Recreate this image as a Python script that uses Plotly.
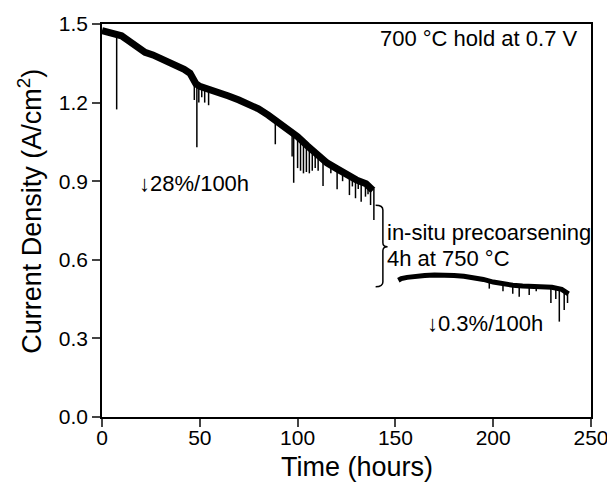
import plotly.graph_objects as go

# Segment 1 (before precoarsening): time (h), current density (A/cm2) band centre
t1 = [0, 3, 6, 10, 13.5, 16, 18, 20, 22, 26, 30, 34, 38.6, 42, 45, 46.5, 48, 50, 53, 56, 60,
      64.7, 70, 75, 80, 85, 90, 95, 100, 105, 110, 115, 120, 125, 130, 135, 138.5]
j1 = [1.475, 1.47, 1.465, 1.455, 1.437, 1.425, 1.41, 1.398, 1.392, 1.382, 1.37, 1.357, 1.34,
      1.327, 1.312, 1.29, 1.272, 1.262, 1.253, 1.245, 1.238, 1.225, 1.21, 1.195, 1.176, 1.152,
      1.125, 1.10, 1.07, 1.035, 1.0, 0.97, 0.948, 0.925, 0.905, 0.89, 0.865]

# Segment 2 (after precoarsening)
t2 = [151.5, 153, 156, 160, 165, 170, 175, 180, 185, 190, 195, 200, 205, 210, 215, 220, 225,
      230, 235, 238.5]
j2 = [0.522, 0.528, 0.533, 0.537, 0.540, 0.542, 0.542, 0.540, 0.537, 0.532, 0.525, 0.515,
      0.508, 0.503, 0.50, 0.498, 0.497, 0.495, 0.487, 0.47]

# Downward spikes: time, lowest value, band value at spike
spike_t = [7.5, 47.2, 48.5, 49.5, 51, 52.5, 54.5, 88.6, 97.2, 98.0, 100, 101.5, 103, 104.5,
           106, 107.5, 109, 110.5, 113, 117, 120.2, 123, 126.5, 128, 129.6, 131, 132.5, 134.7,
           136, 137.3, 139,
           198, 205, 210, 213.3, 218.4, 222, 229.5, 232, 233.8, 236.3, 238]
spike_lo = [1.174, 1.21, 1.03, 1.20, 1.22, 1.20, 1.19, 1.041, 0.994, 0.894, 0.95, 0.94, 0.93,
            0.935, 0.93, 0.94, 0.95, 0.94, 0.882, 0.93, 0.869, 0.90, 0.847, 0.88, 0.835, 0.87,
            0.822, 0.841, 0.85, 0.809, 0.752,
            0.49, 0.48, 0.47, 0.459, 0.466, 0.48, 0.435, 0.45, 0.364, 0.408, 0.435]
spike_hi = [1.46, 1.28, 1.27, 1.27, 1.26, 1.26, 1.25, 1.13, 1.09, 1.08, 1.07, 1.06, 1.05, 1.04,
            1.03, 1.02, 1.01, 1.0, 0.985, 0.96, 0.95, 0.935, 0.925, 0.915, 0.91, 0.905, 0.9,
            0.895, 0.89, 0.885, 0.87,
            0.515, 0.508, 0.503, 0.502, 0.499, 0.498, 0.495, 0.493, 0.49, 0.485, 0.48]

x_ticks = [0, 50, 100, 150, 200, 250]
y_ticks = [0.0, 0.3, 0.6, 0.9, 1.2, 1.5]
y_tick_labels = ["0.0", "0.3", "0.6", "0.9", "1.2", "1.5"]

FONT = "Liberation Sans, Arial, sans-serif"

sx, sy = [], []
for t, lo, hi in zip(spike_t, spike_lo, spike_hi):
    sx += [t, t, None]
    sy += [hi, lo, None]

fig = go.Figure()
fig.add_trace(go.Scatter(x=sx, y=sy, mode="lines", line=dict(color="black", width=1.5),
                         hoverinfo="skip", showlegend=False))
fig.add_trace(go.Scatter(x=t1, y=j1, mode="lines", line=dict(color="black", width=7),
                         showlegend=False))
fig.add_trace(go.Scatter(x=t2, y=j2, mode="lines", line=dict(color="black", width=5),
                         showlegend=False))

# curly bracket for the precoarsening step
fig.add_shape(type="path",
              path="M 139.9,0.808 Q 143.6,0.808 143.6,0.79 L 143.6,0.665 Q 143.6,0.65 146,0.65 "
                   "Q 143.6,0.65 143.6,0.635 L 143.6,0.515 Q 143.6,0.497 139.9,0.497",
              line=dict(color="black", width=1.5), xref="x", yref="y")

ann_font = dict(family=FONT, size=22, color="black")
fig.add_annotation(x=192.5, y=1.444, text="700 °C hold at 0.7 V", showarrow=False,
                   font=ann_font, xanchor="center", yanchor="middle")
fig.add_annotation(x=47, y=0.893, text="↓28%/100h", showarrow=False,
                   font=ann_font, xanchor="center", yanchor="middle")
fig.add_annotation(x=196, y=0.356, text="↓0.3%/100h", showarrow=False,
                   font=ann_font, xanchor="center", yanchor="middle")
fig.add_annotation(x=144.6, y=0.706, text="in-situ precoarsening", showarrow=False,
                   font=ann_font, xanchor="left", yanchor="middle")
fig.add_annotation(x=144.6, y=0.605, text="4h at 750 °C", showarrow=False,
                   font=ann_font, xanchor="left", yanchor="middle")

# axis titles
title_font = dict(family=FONT, size=27, color="black")
fig.add_annotation(xref="paper", yref="paper", x=0.5215, y=0, yshift=-50,
                   text="Time (hours)", showarrow=False, font=title_font,
                   xanchor="center", yanchor="middle")
fig.add_annotation(xref="paper", yref="paper", x=0, xshift=-72, y=0.522,
                   text="Current Density (A/cm<sup>2</sup>)", showarrow=False,
                   font=title_font, textangle=-90, xanchor="center", yanchor="middle")

# the page body has an 8px margin, so the figure is made 8px smaller and shifted
fig.update_layout(
    width=607, height=477,
    margin=dict(l=94, r=24, t=16, b=68),
    paper_bgcolor="white", plot_bgcolor="white",
    font=dict(family=FONT, color="black"),
    xaxis=dict(range=[0, 250], tickvals=x_ticks, ticks="outside", ticklen=8, tickwidth=1.5,
               showline=True, linecolor="black", linewidth=1.5, mirror=True, showgrid=False,
               zeroline=False, tickfont=dict(size=21), automargin=False,
               ticklabelstandoff=-7),
    yaxis=dict(range=[0, 1.5], tickvals=y_ticks, ticktext=y_tick_labels, ticks="outside",
               ticklen=8, tickwidth=1.5, showline=True, linecolor="black", linewidth=1.5,
               mirror=True, showgrid=False, zeroline=False, tickfont=dict(size=21),
               automargin=False),
)

fig.write_html("out.html")
